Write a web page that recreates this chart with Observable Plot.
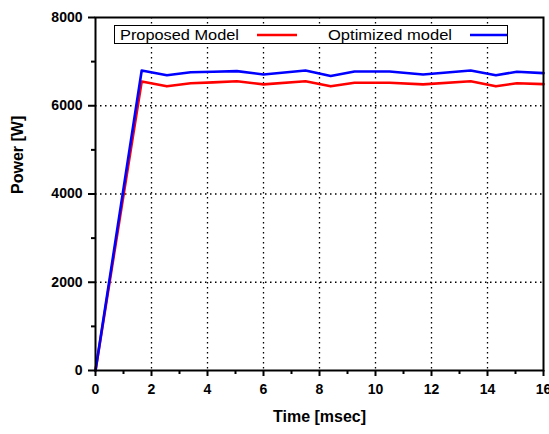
<!DOCTYPE html>
<html><head><meta charset="utf-8">
<script src="https://cdn.jsdelivr.net/npm/d3@7"></script>
<script src="https://cdn.jsdelivr.net/npm/@observablehq/plot@0.6"></script>
<style>
body{margin:0;background:#fff;}
#wrap{position:relative;width:549px;height:434px;overflow:hidden;}
#legend{position:absolute;left:0;top:0;}
</style></head>
<body><div id="wrap"></div>
<script>
const time      = [0, 1.65, 2.55, 3.4, 4.2, 5.05, 6.0, 7.5, 8.4, 9.25, 10.5, 11.7, 13.4, 14.3, 15.05, 16];
const proposed  = [0, 6550, 6440, 6510, 6530, 6555, 6485, 6555, 6440, 6520, 6520, 6485, 6555, 6440, 6510, 6490];
const optimized = [0, 6800, 6690, 6760, 6770, 6785, 6710, 6800, 6675, 6775, 6775, 6710, 6800, 6690, 6770, 6740];
const seriesNames = ["Proposed Model", "Optimized model"];
const seriesColors = ["#ff0000", "#0000ff"];
const xTicks = [0, 2, 4, 6, 8, 10, 12, 14, 16];
const xMinor = [1, 3, 5, 7, 9, 11, 13, 15];
const yTicks = [0, 2000, 4000, 6000, 8000];
const yMinor = [1000, 3000, 5000, 7000];

const redData = time.map((t, i) => ({time: t, value: proposed[i]}));
const blueData = time.map((t, i) => ({time: t, value: optimized[i]}));

const font = "'Liberation Sans', Arial, sans-serif";
const chart = Plot.plot({
  width: 549, height: 434,
  marginLeft: 95, marginRight: 6, marginTop: 17, marginBottom: 64,
  style: {fontFamily: font, background: "white", color: "black"},
  x: {domain: [0, 16]},
  y: {domain: [0, 8000]},
  marks: [
    Plot.gridX(xTicks.slice(1, -1), {stroke: "black", strokeOpacity: 1, strokeWidth: 1.3, strokeDasharray: "1.5 3.5"}),
    Plot.gridY(yTicks.slice(1, -1), {stroke: "black", strokeOpacity: 1, strokeWidth: 1.3, strokeDasharray: "1.5 3.5"}),
    Plot.line(redData, {x: "time", y: "value", stroke: seriesColors[0], strokeWidth: 2.6}),
    Plot.line(blueData, {x: "time", y: "value", stroke: seriesColors[1], strokeWidth: 2.6}),
    Plot.frame({stroke: "black", strokeWidth: 2}),
    Plot.axisX(xTicks, {tickSize: 6, tickPadding: 8, fontSize: 14, fontWeight: "bold", strokeWidth: 2, label: null, tickFormat: d => String(d)}),
    Plot.axisX(xMinor, {tickSize: 4, tickFormat: () => "", strokeWidth: 2, label: null}),
    Plot.axisY(yTicks, {tickSize: 7, tickPadding: 6, fontSize: 14, fontWeight: "bold", strokeWidth: 2, label: null, tickFormat: d => String(d)}),
    Plot.axisY(yMinor, {tickSize: 4, tickFormat: () => "", strokeWidth: 2, label: null}),
    Plot.text(["Time [msec]"], {frameAnchor: "bottom", dy: 51, fontSize: 16, fontWeight: "bold"}),
    Plot.text(["Power [W]"], {frameAnchor: "left", dx: -78, rotate: -90, fontSize: 16, fontWeight: "bold"})
  ]
});
const wrap = document.getElementById("wrap");
wrap.appendChild(chart);

// Legend overlay (inside plot area, like the original)
const ns = "http://www.w3.org/2000/svg";
const lg = document.createElementNS(ns, "svg");
lg.setAttribute("id", "legend");
lg.setAttribute("width", 549);
lg.setAttribute("height", 60);
lg.style.fontFamily = font;
const box = document.createElementNS(ns, "rect");
box.setAttribute("x", 114.5); box.setAttribute("y", 25.5);
box.setAttribute("width", 393); box.setAttribute("height", 18);
box.setAttribute("fill", "white"); box.setAttribute("stroke", "black"); box.setAttribute("stroke-width", 1);
lg.appendChild(box);
const items = [
  {tx: 120, tw: 119, lx1: 257, lx2: 297},
  {tx: 328, tw: 124, lx1: 470, lx2: 507}
];
items.forEach((it, i) => {
  const t = document.createElementNS(ns, "text");
  t.setAttribute("x", it.tx); t.setAttribute("y", 40);
  t.setAttribute("font-size", 14.5);
  t.setAttribute("textLength", it.tw);
  t.setAttribute("lengthAdjust", "spacingAndGlyphs");
  t.textContent = seriesNames[i];
  lg.appendChild(t);
  const l = document.createElementNS(ns, "line");
  l.setAttribute("x1", it.lx1); l.setAttribute("x2", it.lx2);
  l.setAttribute("y1", 35); l.setAttribute("y2", 35);
  l.setAttribute("stroke", seriesColors[i]); l.setAttribute("stroke-width", 2.6);
  lg.appendChild(l);
});
wrap.appendChild(lg);
</script>
</body></html>
